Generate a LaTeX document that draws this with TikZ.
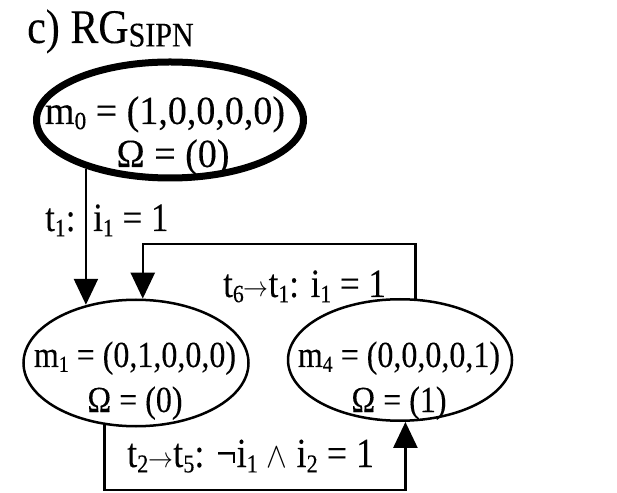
\documentclass[tikz,border=0pt]{standalone}
\usepackage{fontspec}
\usepackage{graphicx}
\setmainfont{Liberation Serif}
\usetikzlibrary{shapes.geometric,arrows.meta}
\newcommand{\sbs}[1]{\raisebox{-0.13em}{\fontsize{0.62em}{0.62em}\selectfont #1}}
\newcommand{\vs}[1]{\scalebox{1}[1.15]{#1}}
\newcommand{\rarr}{$\rightarrow$}
\tikzset{
  state/.style={ellipse, draw, line width=2.5pt, inner sep=0pt},
  initstate/.style={state, line width=7pt},
  txt/.style={font=\fontsize{32}{38}\selectfont\addfontfeatures{FakeBold=0.2}, inner sep=0pt, anchor=base},
  bigtxt/.style={txt, font=\fontsize{38}{44}\selectfont\addfontfeatures{FakeBold=0.2}},
  lbl/.style={txt, anchor=base west, font=\fontsize{35}{40}\selectfont\addfontfeatures{FakeBold=0.2}},
  arr/.style={line width=2.5pt, -{Triangle[length=26pt,width=24pt]}}
}
\begin{document}
\begin{tikzpicture}[x=1pt,y=1pt]
\useasboundingbox (0,0) rectangle (617,492);
\node[lbl, font=\fontsize{42}{48}\selectfont\addfontfeatures{FakeBold=0.2}] (title) at (27,449) {\vs{c) RG\raisebox{-3pt}{\fontsize{30}{30}\selectfont SIPN}}};
\node[initstate, minimum width=267pt, minimum height=116pt] (m0) at (170,372) {};
\node[state, minimum width=225pt, minimum height=126.5pt] (m1) at (136,129) {};
\node[state, minimum width=224pt, minimum height=121.5pt] (m4) at (400,132) {};
\node[bigtxt] (m0a) at (165,368) {\scalebox{1}[1.05]{m\sbs{0} = (1,0,0,0,0)}};
\node[bigtxt] (m0b) at (173,325) {\scalebox{1}[1.05]{Ω = (0)}};
\node[txt] (m1a) at (135,125) {\vs{m\sbs{1} = (0,1,0,0,0)}};
\node[txt] (m1b) at (135,80) {\vs{Ω = (0)}};
\node[txt] (m4a) at (399,125) {\vs{m\sbs{4} = (0,0,0,0,1)}};
\node[txt] (m4b) at (399,80) {\vs{Ω = (1)}};
\coordinate (top) at (0,248);
\coordinate (bot) at (0,2);
\draw[arr] (m0.210.5) -- (m0.210.5 |- m1.130.1);
\draw[arr] (m4.76.3) -- (m4.76.3 |- top) -- (m1.84.7 |- top) -- (m1.84.7);
\draw[arr] (m1.243.45) -- (m1.243.45 |- bot) -- (m4.275.5 |- bot) -- (m4.275.5);
\node[lbl] (l1a) at (45,261) {\vs{t\sbs{1}:}};
\node[lbl] (l1b) at (93,261) {\vs{i\sbs{1} = 1}};
\node[lbl] (l2) at (223,195) {\vs{t\sbs{6}\rarr t\sbs{1}: i\sbs{1} = 1}};
\node[lbl, font=\fontsize{36}{40}\selectfont\addfontfeatures{FakeBold=0.2}] (l3) at (127,25) {\vs{t\sbs{2}\rarr t\sbs{5}: ¬i\sbs{1} \scalebox{1.25}{$\land$} i\sbs{2} = 1}};
\end{tikzpicture}
\end{document}
